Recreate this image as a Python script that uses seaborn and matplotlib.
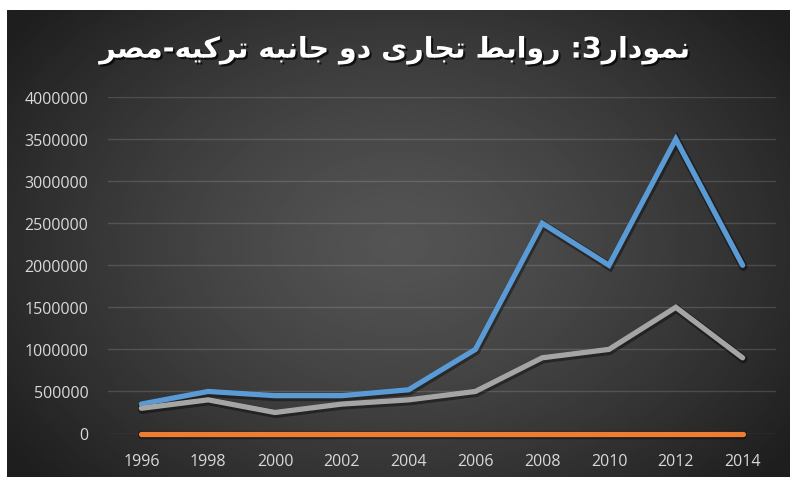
import matplotlib.pyplot as plt
import matplotlib.patheffects as pe
import numpy as np
import pandas as pd
import seaborn as sns

# داده‌ها (خوانده شده از نمودار)
years = ["1996", "1998", "2000", "2002", "2004", "2006", "2008", "2010", "2012", "2014"]
series_blue = [350000, 500000, 450000, 450000, 520000, 1000000, 2500000, 2000000, 3500000, 2000000]
series_orange = [0, 0, 0, 0, 0, 0, 0, 0, 0, 0]
series_gray = [300000, 400000, 250000, 350000, 400000, 500000, 900000, 1000000, 1500000, 900000]
series_names = ["s1", "s2", "s3"]
y_ticks = [0, 500000, 1000000, 1500000, 2000000, 2500000, 3000000, 3500000, 4000000]
title = "نمودار3: روابط تجاری دو جانبه ترکیه-مصر"

# شکل‌دهی ساده حروف فارسی (matplotlib خودش حروف را به هم وصل نمی‌کند)
forms = {
    "ا": ("\uFE8D", "\uFE8E", None, None),
    "ب": ("\uFE8F", "\uFE90", "\uFE91", "\uFE92"),
    "ت": ("\uFE95", "\uFE96", "\uFE97", "\uFE98"),
    "ج": ("\uFE9D", "\uFE9E", "\uFE9F", "\uFEA0"),
    "د": ("\uFEA9", "\uFEAA", None, None),
    "ر": ("\uFEAD", "\uFEAE", None, None),
    "ص": ("\uFEB9", "\uFEBA", "\uFEBB", "\uFEBC"),
    "ط": ("\uFEC1", "\uFEC2", "\uFEC3", "\uFEC4"),
    "م": ("\uFEE1", "\uFEE2", "\uFEE3", "\uFEE4"),
    "ن": ("\uFEE5", "\uFEE6", "\uFEE7", "\uFEE8"),
    "ه": ("\uFEE9", "\uFEEA", "\uFEEB", "\uFEEC"),
    "و": ("\uFEED", "\uFEEE", None, None),
    "ی": ("\uFBFC", "\uFBFD", "\uFBFE", "\uFBFF"),
    "ک": ("\uFB8E", "\uFB8F", "\uFB90", "\uFB91"),
}


def shape_fa(text):
    out = []
    for i, ch in enumerate(text):
        if ch not in forms:
            out.append(ch)
            continue
        prev = text[i - 1] if i > 0 else ""
        nxt = text[i + 1] if i + 1 < len(text) else ""
        join_prev = prev in forms and forms[prev][2] is not None
        join_next = nxt in forms and forms[ch][2] is not None
        iso, fin, ini, med = forms[ch]
        if join_prev and join_next:
            out.append(med)
        elif join_prev:
            out.append(fin)
        elif join_next:
            out.append(ini)
        else:
            out.append(iso)
    return "".join(out)[::-1]


df = pd.DataFrame({
    "year": years * 3,
    "value": series_blue + series_orange + series_gray,
    "series": [series_names[0]] * 10 + [series_names[1]] * 10 + [series_names[2]] * 10,
})
palette = {"s1": "#5B9BD5", "s2": "#ED7D31", "s3": "#A5A5A5"}

sns.set_style("white")
plt.rcParams["font.family"] = ["Open Sans", "DejaVu Sans"]

fig = plt.figure(figsize=(7.9, 4.81), dpi=100)

# پس‌زمینه تیره با گرادیان شعاعی
bg = fig.add_axes([7 / 790, 3 / 481, 783 / 790, 467 / 481], zorder=0)
gx, gy = np.meshgrid(np.linspace(0, 1, 400), np.linspace(0, 1, 240))
r = np.sqrt(((gx - 0.5) / 0.62) ** 2 + ((gy - 0.5) / 0.75) ** 2)
r = np.clip(r, 0, 1)
grad = 0.33 - (0.33 - 0.12) * r ** 1.3
bg.imshow(grad, cmap="gray", vmin=0, vmax=1, aspect="auto", interpolation="bilinear")
bg.axis("off")

ax = fig.add_axes([108 / 790, 46.5 / 481, 668 / 790, 336.5 / 481], zorder=1)
ax.set_facecolor("none")

sns.lineplot(data=df, x="year", y="value", hue="series", palette=palette, linewidth=3.8,
             legend=False, ax=ax, sort=False)
for line in ax.get_lines():
    line.set_clip_on(False)
    line.set_solid_capstyle("round")
    line.set_solid_joinstyle("miter")
    line.set_path_effects([pe.SimpleLineShadow(offset=(0.6, -1.0), shadow_color="black", alpha=0.4, linewidth=6),
                           pe.Normal()])

ax.set_xlim(-0.5, len(years) - 0.5)
ax.set_ylim(0, 4000000)
ax.set_yticks(y_ticks)
ax.set_yticklabels([str(v) for v in y_ticks])
ax.yaxis.grid(True, color="white", alpha=0.14, linewidth=1)
ax.set_axisbelow(True)
ax.tick_params(axis="both", colors="#D9D9D9", labelsize=11.5, length=0)
ax.tick_params(axis="y", pad=14)
ax.tick_params(axis="x", pad=14)
for s in ax.spines.values():
    s.set_visible(False)
ax.set_xlabel("")
ax.set_ylabel("")

fig.text(0.5, 0.893, shape_fa(title), ha="center", va="center", fontsize=20.5, fontweight="bold",
         color="white", family=["DejaVu Sans"],
         path_effects=[pe.SimplePatchShadow(offset=(1.5, -1.5), shadow_rgbFace="black", alpha=0.7), pe.Normal()])

fig.savefig("out.png", dpi=100, facecolor="white")
